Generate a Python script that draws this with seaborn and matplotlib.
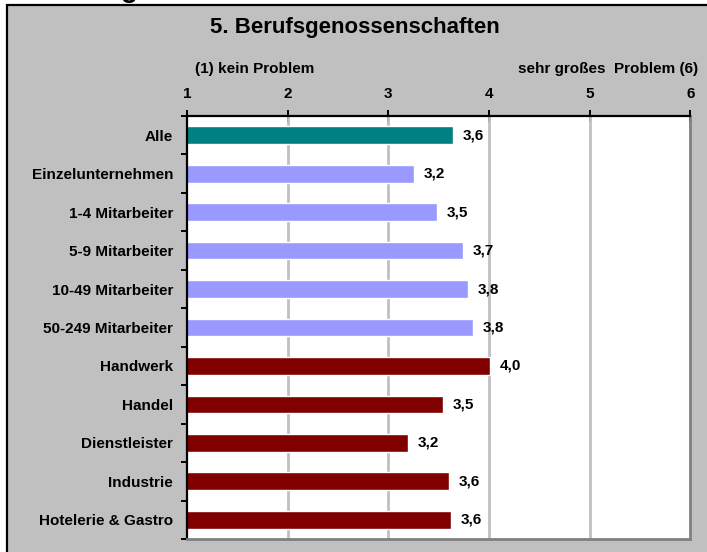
import matplotlib
matplotlib.use("Agg")
import matplotlib.pyplot as plt
import seaborn as sns
import pandas as pd
from matplotlib.patches import Rectangle

categories = ["Alle", "Einzelunternehmen", "1-4 Mitarbeiter", "5-9 Mitarbeiter",
              "10-49 Mitarbeiter", "50-249 Mitarbeiter", "Handwerk", "Handel",
              "Dienstleister", "Industrie", "Hotelerie & Gastro"]
values = [3.64, 3.25, 3.48, 3.74, 3.79, 3.84, 4.01, 3.54, 3.19, 3.60, 3.62]
labels = ["3,6", "3,2", "3,5", "3,7", "3,8", "3,8", "4,0", "3,5", "3,2", "3,6", "3,6"]
groups = ["all", "size", "size", "size", "size", "size", "sector", "sector", "sector", "sector", "sector"]
tick_values = [1, 2, 3, 4, 5, 6]

palette = {"all": "#008080", "size": "#9999FF", "sector": "#800000"}

sns.set_theme(style="white")
plt.rcParams['font.family'] = ['Liberation Sans', 'DejaVu Sans']
plt.rcParams['text.color'] = 'black'
plt.rcParams['xtick.color'] = 'black'
plt.rcParams['ytick.color'] = 'black'
plt.rcParams['xtick.labelcolor'] = 'black'
plt.rcParams['ytick.labelcolor'] = 'black'

fig = plt.figure(figsize=(7.07, 5.52), dpi=100)
fig.patch.set_facecolor("white")
W, H = 707, 552

# outer chart frame (silver)
frame = Rectangle((7 / W, 1 - 560 / H), 720 / W, (560 - 5) / H, transform=fig.transFigure,
                  facecolor="#C0C0C0", edgecolor="black", linewidth=1.6, zorder=-10)
fig.patches.append(frame)

# fragment of heading above the frame
fig.text(121 / W, 1 + 3 / H, "g", fontsize=20, fontweight="bold", ha="left", va="baseline")

ax = fig.add_axes([187 / W, 1 - 539 / H, (690.5 - 187) / W, (539 - 116) / H])
ax.set_zorder(2)
ax.set_facecolor("white")

df = pd.DataFrame({"cat": categories, "val": values, "grp": groups})
sns.barplot(data=df, x="val", y="cat", hue="grp", palette=palette, dodge=False,
            width=0.46, ax=ax, legend=False, order=categories, zorder=3, saturation=1)

ax.set_xlim(1, 6)
ax.set_ylim(len(categories) - 0.5, -0.5)
ax.set_xlabel("")
ax.set_ylabel("")

# gridlines
for v in tick_values[1:-1]:
    ax.axvline(v, color="#C0C0C0", linewidth=2, zorder=1)

# spines
ax.spines["left"].set_color("black")
ax.spines["left"].set_linewidth(1.6)
ax.spines["top"].set_color("black")
ax.spines["top"].set_linewidth(1.6)
ax.spines["right"].set_color("#808080")
ax.spines["right"].set_linewidth(2)
ax.spines["bottom"].set_color("#808080")
ax.spines["bottom"].set_linewidth(2)
for s in ax.spines.values():
    s.set_visible(True)
    s.set_zorder(5)

ax.xaxis.tick_top()
ax.set_xticks(tick_values)
ax.set_xticklabels([str(t) for t in tick_values], fontsize=11, fontweight="bold")
ax.tick_params(axis="x", which="major", direction="inout", length=8, width=1.4,
               color="black", pad=7, top=True, bottom=False)

ax.set_yticks(range(len(categories)))
ax.set_yticklabels(categories, fontsize=11, fontweight="bold")
ax.set_yticks([i + 0.5 for i in range(-1, len(categories))], minor=True)
ax.tick_params(axis="y", which="major", length=0, pad=10)
ax.tick_params(axis="y", which="minor", direction="out", length=4, width=1.4,
               color="black", left=True)

for i, (v, lab) in enumerate(zip(values, labels)):
    ax.annotate(lab, xy=(v, i), xytext=(7, 0), textcoords="offset points",
                ha="left", va="center", fontsize=11, fontweight="bold", zorder=6)

fig.text(355 / W, 1 - 28 / H, "5. Berufsgenossenschaften", fontsize=16,
         fontweight="bold", ha="center", va="center")
fig.text(195 / W, 1 - 69 / H, "(1) kein Problem", fontsize=11, fontweight="bold",
         ha="left", va="center")
fig.text(698 / W, 1 - 69 / H, "sehr großes  Problem (6)", fontsize=11, fontweight="bold",
         ha="right", va="center")

fig.savefig("out.png", dpi=100, facecolor=fig.get_facecolor())
